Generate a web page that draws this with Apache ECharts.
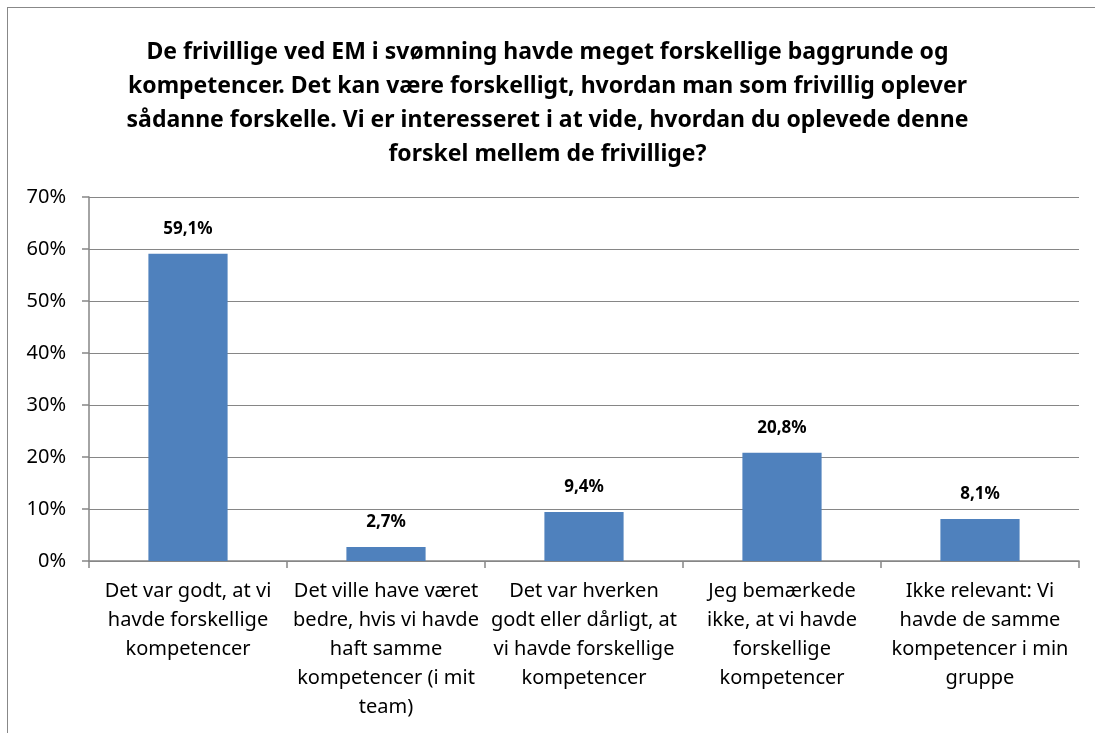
<!DOCTYPE html>
<html>
<head>
<meta charset="utf-8">
<script src="https://cdn.jsdelivr.net/npm/echarts@6/dist/echarts.min.js"></script>
<style>
  html, body { margin: 0; padding: 0; background: #fff; }
  .frame {
    position: absolute;
    left: 7px;
    top: 7px;
    width: 1200px;
    height: 900px;
    border: 1.5px solid #888;
  }
  #chart { position: absolute; left: 0; top: 0; width: 1095px; height: 733px; }
</style>
</head>
<body>
<div class="frame"></div>
<div id="chart"></div>
<script>
// 数据
const titleText = 'De frivillige ved EM i svømning havde meget forskellige baggrunde og\n' +
  'kompetencer. Det kan være forskelligt, hvordan man som frivillig oplever\n' +
  'sådanne forskelle. Vi er interesseret i at vide, hvordan du oplevede denne\n' +
  'forskel mellem de frivillige?'
const categories = [
  'Det var godt, at vi\nhavde forskellige\nkompetencer',
  'Det ville have været\nbedre, hvis vi havde\nhaft samme\nkompetencer (i mit\nteam)',
  'Det var hverken\ngodt eller dårligt, at\nvi havde forskellige\nkompetencer',
  'Jeg bemærkede\nikke, at vi havde\nforskellige\nkompetencer',
  'Ikke relevant: Vi\nhavde de samme\nkompetencer i min\ngruppe'
]
const values = [59.1, 2.7, 9.4, 20.8, 8.1]
const yTicks = [0, 10, 20, 30, 40, 50, 60, 70]

const font = "'Noto Sans', 'Open Sans', sans-serif"
const chartInstance = echarts.init(document.getElementById('chart'))

const option = {
  animation: false,
  title: {
    text: titleText,
    left: 'center',
    top: 30,
    textStyle: {
      fontFamily: font,
      fontWeight: 'bold',
      fontSize: 23,
      lineHeight: 34,
      color: '#000'
    }
  },
  grid: {
    left: 89,
    right: 16,
    top: 197,
    bottom: 172,
    containLabel: false
  },
  xAxis: {
    type: 'category',
    data: categories,
    axisLine: { lineStyle: { color: '#868686', width: 1.5 } },
    axisTick: { show: true, length: 7, lineStyle: { color: '#868686', width: 1.5 } },
    axisLabel: {
      interval: 0,
      margin: 16,
      fontFamily: font,
      fontSize: 20,
      lineHeight: 29,
      color: '#000',
      align: 'center'
    }
  },
  yAxis: {
    type: 'value',
    min: yTicks[0],
    max: yTicks[yTicks.length - 1],
    interval: 10,
    axisLine: { show: true, lineStyle: { color: '#868686', width: 1.5 } },
    axisTick: { show: true, length: 7, lineStyle: { color: '#868686', width: 1.5 } },
    splitLine: { show: true, lineStyle: { color: '#868686', width: 1.2 } },
    axisLabel: {
      margin: 23,
      fontFamily: font,
      fontSize: 20,
      color: '#000',
      formatter: '{value}%'
    }
  },
  series: [
    {
      type: 'bar',
      data: values,
      barWidth: '40%',
      itemStyle: { color: '#4F81BD' },
      label: {
        show: true,
        position: 'top',
        distance: 16,
        fontFamily: font,
        fontWeight: 'bold',
        fontSize: 17,
        color: '#000',
        formatter: (arg) => arg.value.toFixed(1).replace('.', ',') + '%'
      }
    }
  ]
}
chartInstance.setOption(option)
</script>
</body>
</html>
